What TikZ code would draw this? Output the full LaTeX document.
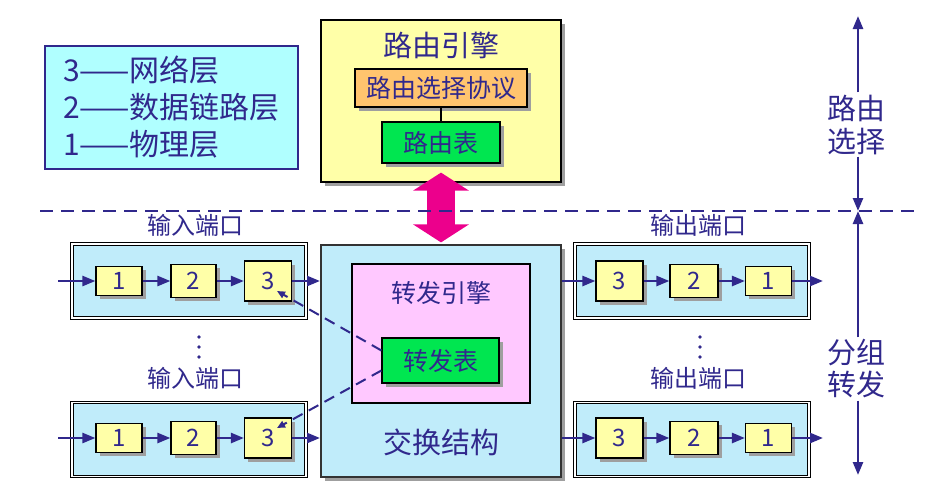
\documentclass[tikz,border=0pt]{standalone}
\usepackage{fontspec}
\setmainfont{Noto Sans CJK SC}
\usetikzlibrary{positioning,arrows.meta,shadows}
\definecolor{ink}{RGB}{48,40,140}
\definecolor{legendcyan}{RGB}{176,255,255}
\definecolor{portblue}{RGB}{192,236,250}
\definecolor{cellyellow}{RGB}{255,255,168}
\definecolor{protoorange}{RGB}{255,196,110}
\definecolor{tablegreen}{RGB}{0,230,80}
\definecolor{enginepink}{RGB}{255,200,255}
\definecolor{linkmagenta}{RGB}{236,0,140}

\begin{document}
\begin{tikzpicture}[x=1pt,y=-1pt,>={Stealth[length=13pt,width=10pt,inset=0pt]},node distance=74.5pt,
    shadowed/.style={drop shadow={shadow xshift=3.5pt,shadow yshift=-3.5pt,fill=gray!75,opacity=1}},
    cell/.style={draw,line width=1.2pt,fill=cellyellow,text=ink,inner sep=2pt,font=\fontsize{24}{24}\selectfont,shadowed},
    port/.style={draw,double,double distance=1.8pt,line width=0.9pt,fill=portblue,minimum width=234pt,minimum height=74pt},
    tablebox/.style={draw,line width=1.2pt,fill=tablegreen,text=ink,inner sep=2pt,font=\fontsize{25}{25}\selectfont,shadowed},
    tag/.style={text=ink,inner sep=2pt},
    flow/.style={->,draw=ink,line width=2.5pt}]
\useasboundingbox (0,0) rectangle (952,499);

% legend
\node[draw=ink,line width=1.8pt,fill=legendcyan,minimum width=253pt,minimum height=123pt,align=left,text=ink,
      font=\fontsize{30}{37}\selectfont] (lg) at (171.5,107.5) {3——网络层\\2——数据链路层\\1——物理层};

% routing engine
\node[draw,line width=1.2pt,fill=cellyellow,minimum width=240pt,minimum height=162pt,shadowed] (re) at (441,101) {};
\node[tag,font=\fontsize{29}{29}\selectfont] (ret) at (441,45) {路由引擎};
\node[draw,line width=1.2pt,fill=protoorange,text=ink,inner sep=2pt,minimum width=172pt,minimum height=38pt,
      font=\fontsize{25}{25}\selectfont,shadowed] (rp) at (441,88) {路由选择协议};
\node[tablebox,minimum width=118pt,minimum height=41pt] (rt) at (441,142.5) {路由表};
\draw[line width=1.2pt] (rp.south) -- (rt.north);

% switch fabric
\node[draw=black!80,line width=1.2pt,fill=portblue,minimum width=240pt,minimum height=232pt,shadowed] (sf) at (441,361) {};
\node[draw,line width=1.2pt,fill=enginepink,minimum width=178pt,minimum height=139pt] (fe) at (441,333.5) {};
\node[tag,font=\fontsize{25}{25}\selectfont] (fet) at (441,293) {转发引擎};
\node[tablebox,minimum width=117pt,minimum height=45pt] (ft) at (440.5,360.5) {转发表};
\node[tag,font=\fontsize{29}{29}\selectfont] (sft) at (441,442) {交换结构};

% ports
\node[port] (ip1) at (189,281) {};
\node[port] (ip2) at (189,439.5) {};
\node[port] (op1) at (692,281) {};
\node[port] (op2) at (692,439.5) {};
\node[tag,font=\fontsize{24}{24}\selectfont] (ipt1) at (195,225) {输入端口};
\node[tag,font=\fontsize{24}{24}\selectfont] (ipt2) at (195,378) {输入端口};
\node[tag,font=\fontsize{24}{24}\selectfont] (opt1) at (698,225) {输出端口};
\node[tag,font=\fontsize{24}{24}\selectfont] (opt2) at (698,378) {输出端口};
\foreach \y in {337,347,357} {
  \fill[ink] (199,\y) circle (1.8pt);
  \fill[ink] (700,\y) circle (1.8pt);
}

% input cells
\node[cell,minimum width=46pt,minimum height=29pt] (a1) at (119,281) {1};
\node[cell,minimum width=45pt,minimum height=33pt] (a2) [right of=a1] {2};
\node[cell,minimum width=47pt,minimum height=40pt] (a3) [right of=a2] {3};
\node[cell,minimum width=46pt,minimum height=29pt] (c1) at (119,438) {1};
\node[cell,minimum width=45pt,minimum height=33pt] (c2) [right of=c1] {2};
\node[cell,minimum width=47pt,minimum height=40pt] (c3) [right of=c2] {3};

% output cells
\node[cell,minimum width=47pt,minimum height=40pt] (b3) at (619.5,281) {3};
\node[cell,minimum width=48pt,minimum height=33pt] (b2) [right of=b3] {2};
\node[cell,minimum width=46pt,minimum height=29pt] (b1) [right of=b2] {1};
\node[cell,minimum width=47pt,minimum height=40pt] (d3) at (619.5,438) {3};
\node[cell,minimum width=48pt,minimum height=33pt] (d2) [right of=d3] {2};
\node[cell,minimum width=46pt,minimum height=29pt] (d1) [right of=d2] {1};

\coordinate (in1) at (58,281);
\coordinate (in2) at (58,438);
\coordinate (sw1) at (320,281);
\coordinate (sw2) at (320,438);
\coordinate (se1) at (562,281);
\coordinate (se2) at (562,438);
\coordinate (out1) at (823,281);
\coordinate (out2) at (823,438);
\path (in1) edge[flow] (a1) (a1) edge[flow] (a2) (a2) edge[flow] (a3) (a3) edge[flow] (sw1)
      (in2) edge[flow] (c1) (c1) edge[flow] (c2) (c2) edge[flow] (c3) (c3) edge[flow] (sw2);
\path (se1) edge[flow] (b3) (b3) edge[flow] (b2) (b2) edge[flow] (b1) (b1) edge[flow] (out1)
      (se2) edge[flow] (d3) (d3) edge[flow] (d2) (d2) edge[flow] (d1) (d1) edge[flow] (out2);

% table lookups
\draw[draw=ink,line width=2pt,dash pattern=on 11pt off 7pt,-{Stealth[length=8pt,width=7pt,inset=0pt]}]
  ([yshift=10pt]ft.west) -- ([xshift=9pt,yshift=-10pt]a3.center);
\draw[draw=ink,line width=2pt,dash pattern=on 11pt off 7pt,-{Stealth[length=8pt,width=7pt,inset=0pt]}]
  ([yshift=-10pt]ft.west) -- ([xshift=9pt,yshift=10pt]c3.center);

% link between engines
\draw[draw=linkmagenta,line width=28pt,{Triangle[length=18pt,width=55pt]}-{Triangle[length=18pt,width=55pt]},
      shorten <=-10pt,shorten >=2pt] (re.south) -- (sf.north);

% boundary
\coordinate (dl) at (40,211);
\coordinate (dr) at (918,211);
\draw[draw=ink,line width=2pt,dash pattern=on 13pt off 8pt] (dl) -- (dr);

% right axis
\coordinate (top) at (858,16);
\coordinate (mid) at (858,211);
\coordinate (bot) at (858,475);
\node[tag,align=center,font=\fontsize{29}{33}\selectfont] (rs) at (856,124.5) {路由\\选择};
\node[tag,align=center,font=\fontsize{29}{32}\selectfont] (pf) at (856,369) {分组\\转发};
\path (rs.north -| top) edge[flow] (top) (rs.south -| mid) edge[flow] (mid)
      (pf.north -| mid) edge[flow] (mid) (pf.south -| bot) edge[flow] (bot);
\end{tikzpicture}
\end{document}
